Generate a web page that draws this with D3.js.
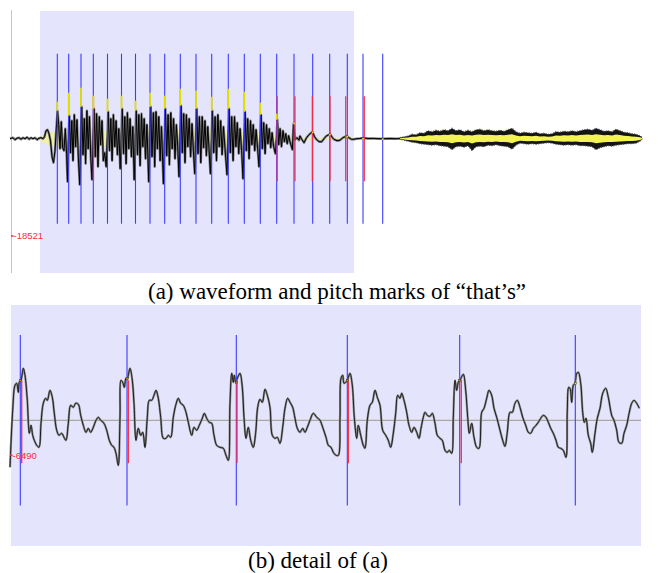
<!DOCTYPE html>
<html>
<head>
<meta charset="utf-8">
<script src="https://cdn.jsdelivr.net/npm/d3@7"></script>
<style>
  body { margin: 0; background: #fff; }
  svg { display: block; }
</style>
</head>
<body>
<script>
var WIDTH = 658, HEIGHT = 573;

// ---------- panel (a): whole word ----------
// t: time in trace steps from the start of the recording, amp: amplitude in units of topUnit raw values
var topUnit = 190.4;
var topMin = -18521;
var topWave = [
  [0,0],[3,1],[5,-1],[7,0.5],[9,1],[11,-0.5],[13,1],[15,0],[17,1.5],[19,-0.5],[21,1],[23,0],[25,1],[27,-1],[29,0.5],[31,1],[33,0],[34.5,2],[36,8],[37.5,9],[39,5],[40.5,-2],
  [42,-18],[43.5,-24],[45,-12],[46.3,10],[47.5,28],[48.7,14],[50,-10],[51.3,17],[52.6,-9],[54,-12],[55.3,10],[56.6,-16],
  [57.5,-43],[58.7,8],[59.4,23],[60.5,-14],[61.8,18],[63,-22],[64.3,24],[65.6,-8],[67,19],[68.3,-18],
  [69.7,-46],[71,10],[71.7,32],[73,-16],[74.3,20],[75.6,-25],[76.9,28],[78.2,-10],[79.5,22],[80.8,-20],
  [82,-41],[83.3,6],[84,30],[85.3,-18],[86.6,25],[88,-28],[89.3,22],[90.6,-6],[92,18],[93.3,-22],[94.7,-14],
  [96.2,-28],[97.5,5],[98.2,27],[99.5,-12],[100.8,20],[102.1,-22],[103.4,24],[104.8,-8],[106.1,18],[107.4,-16],[108.8,10],
  [110.2,-30],[111.5,8],[112.2,30],[113.5,-15],[114.8,22],[116.1,-25],[117.4,26],[118.8,-10],[120.1,20],[121.4,-18],[122.8,12],
  [124.2,-41],[125.5,6],[126.2,28],[127.5,-16],[128.8,24],[130.1,-27],[131.5,25],[132.8,-8],[134.2,20],[135.5,-20],[136.9,14],
  [138.7,-43],[140,8],[140.7,32],[142,-18],[143.4,26],[144.7,-28],[146,27],[147.4,-10],[148.8,22],[150.1,-22],[151.5,12],
  [153.4,-45],[154.7,6],[155.4,30],[156.7,-17],[158.1,24],[159.4,-26],[160.8,26],[162.2,-10],[163.6,20],[165,-20],[166.4,14],[167.7,-8],
  [169,-38],[170.3,10],[171,33],[172.3,-14],[173.7,25],[175,-24],[176.4,24],[177.8,-8],[179.2,20],[180.6,-18],[182,15],[183.4,-12],
  [184.7,-35],[186,8],[186.7,30],[188,-15],[189.4,22],[190.8,-24],[192.2,22],[193.6,-9],[195,18],[196.4,-17],[197.8,12],[199,-10],
  [200.4,-35],[201.7,6],[202.4,28],[203.7,-14],[205.1,22],[206.5,-22],[207.9,24],[209.3,-8],[210.7,18],[212.1,-16],[213.5,12],[215,-10],
  [217,-36],[218.3,8],[219,30],[220.3,-14],[221.7,22],[223.1,-22],[224.5,22],[225.9,-8],[227.3,16],[228.7,-15],[230.1,10],[231.6,-12],
  [233,-40],[234.3,6],[235,27],[236.3,-12],[237.7,20],[239.1,-20],[240.5,18],[241.9,-6],[243.3,14],[244.7,-12],[246.1,9],[247.6,-10],
  [249,-28],[250.3,5],[251,24],[252.3,-10],[253.7,16],[255.1,-15],[256.5,14],[257.9,-5],[259.3,10],[260.7,-9],[262.1,6],[263.6,-8],
  [265.4,-15],[266.7,4],[267.4,19],[268.7,-6],[270.1,10],[271.5,-8],[273,8],[274.4,-3],[275.8,5],[277.2,-5],[278.7,3],[280.2,-4],
  [282.4,-11],[283.5,15],[285,-1],[287,1],[289,-1.5],[290,2.7],[292,-1],[294,-4],[296.5,1],[299,4],[302.5,7],[304.5,2],[306.7,-1],
  [309,-3],[311.7,-3],[314,0],[316,2.5],[320,4.7],[322.5,1],[324,-0.7],[327,-2],[330,-1.5],[333,1],[336.7,2.7],[339,1],[341.7,-0.7],
  [344,-0.5],[346.7,0],[350,0.3],[353.3,0.7],[358,0.2],[363.3,0.3],[368,0],[373.3,0],[380,0.2],[386.7,0],[390,0.3]
];
// pale yellow trace under the voiced part: [t, half width]
var voicedYellow = [
  [26,0],[30,2],[36,5],[40,7],[46,6],[50,9],[56,5],[60,9],[66,5],[72,10],[78,6],[84,10],[90,6],[98,9],[104,5],[112,9],
  [118,6],[126,10],[132,6],[140,10],[146,6],[155,9],[162,6],[170,10],[177,6],[186,9],[193,5],[202,9],[209,5],[218,8],
  [225,5],[234,7],[241,4],[250,6],[258,3],[267,4],[275,2],[284,2],[300,1],[340,0.6],[390,0.5]
];
// the "s" fricative: envelopes of the black trace and of the yellow trace
var fricT   = [390,394,398,402,406,410,414,418,422,426,430,434,438,442,446,450,454,458,462,466,470,474,478,482,486,490,494,498,502,506,510,514,518,522,526,530,534,538,542,546,550,554,558,562,566,570,574,578,582,586,590,594,598,602,606,610,614,618,622,626,630,632];
var fricHi  = [1.2,2,2.8,4.5,4,6,5.5,8,7,8.5,7.5,9,8,10.5,8,9,7,8.5,7,9,9.5,8,9,8,7.5,8.5,7.5,9,10.5,7,5.5,6.5,6,5.5,6.5,5,5.5,4.5,5,7,6.5,7.5,7,8,7,8,9,9.5,8.5,10.5,9,7.5,8,7,9.5,8,6.5,6,5,4.5,3,1.5];
var fricLo  = [-0.8,-1.5,-2.5,-3.5,-4,-5,-5.5,-6,-6.5,-6,-7,-7.5,-8,-11,-8,-7.5,-8.5,-7,-12,-8,-7.5,-8,-6.5,-7,-6,-7,-7.5,-8,-10.5,-6.5,-4.5,-5,-5.5,-5,-5.5,-5,-4.5,-4,-4.5,-5.5,-6,-6.5,-6,-6.5,-6,-7,-7,-7.5,-8,-11,-9,-8,-7,-7.5,-6.5,-6,-5.5,-5,-5,-4.5,-2.5,-1];
var fricYHi = [0.5,1,1.3,2,2,2.8,2.5,3.5,3.2,3.8,3.4,4,3.6,4.5,3.6,4,3.2,3.8,3.2,4,4.2,3.6,4,3.6,3.4,3.8,3.4,4,4.5,3.2,2.5,3,2.7,2.5,3,2.3,2.5,2,2.3,3.2,3,3.4,3.2,3.6,3.2,3.6,4,4.2,3.8,4.5,4,3.4,3.6,3.2,4.2,3.6,3,2.7,2.3,2,1.4,0.7];
var fricYLo = [-0.4,-0.7,-1.2,-1.6,-1.8,-2.3,-2.5,-2.7,-3,-2.7,-3.2,-3.4,-3.6,-4.5,-3.6,-3.4,-3.8,-3.2,-4.8,-3.6,-3.4,-3.6,-3,-3.2,-2.7,-3.2,-3.4,-3.6,-4.5,-3,-2,-2.3,-2.5,-2.3,-2.5,-2.3,-2,-1.8,-2,-2.5,-2.7,-3,-2.7,-3,-2.7,-3.2,-3.2,-3.4,-3.6,-4.5,-4,-3.6,-3.2,-3.4,-3,-2.7,-2.5,-2.3,-2.3,-2,-1.2,-0.5];
// pitch marks
var topMarks  = [47.3,58.7,71,83.3,97.5,111.5,125.5,140,154.7,170.3,186,201.7,218.3,234.3,250.3,266.7,284,302.7,319.7,337.3,353,372.7];
var spikeTop  = [37,46,51,43,40,43,38,46,43,50,48,42,50,47,36,25,16,7,4.7,2.7,0.7,0.3];
var spikeBase = [28,23,32,30,27,30,28,32,30,33,30,28,30,27,24,19,14.5,5.5,3.2,1.2,-0.8,-1.2];
var topRed    = [83.5,267.2,285,302.3,320,335.7,354.3];
var topSelection = [30, 344];
var topMarkHalf = 85, topRedHalf = 42.5;

// ---------- panel (b): detail ----------
var detailUnit = 185.4;
var detailMin = -6490;
var detailWave = [
  [0,-47],[2.7,10],[5,35],[6.7,37],[8.3,28],[9.3,38],[11,40],[13.3,52],[15,45],[17.3,20],[19.3,-13],[21,-5],[22.7,-15],[24.3,-20],[26.7,-25],[29,-27],
  [31,-3],[33.3,17],[35.7,22],[37.3,20],[40,30],[42.3,23],[44.3,7],[46.7,-10],[49,-15],[51.7,-13],[54,-17],[56,-20],[58.3,-3],[60.7,15],[63.3,13],
  [65.7,17],[68.3,16],[70.7,5],[73.3,-5],[76,-12],[78.3,-8],[80.7,-12],[83.3,-7],[86,0],[88.3,3],[90.7,0],[94,-3],[96.7,-10],[99.3,-20],[101.7,-25],
  [104,-27],[106,-33],[108.3,-45],[110,3],[111,40],[112.7,38],[114.3,33],[116,42],[117.3,42],[120,52],[122.3,40],[124,17],[126,-20],[128.3,-8],
  [130.7,-15],[132.7,-12],[135,-27],[137.3,3],[139.3,20],[141.7,20],[144,25],[146,30],[148.3,22],[150.7,3],[153.3,-18],[156,-18],[158.3,-15],
  [160.7,-17],[163.3,3],[165.7,15],[168.3,22],[170.7,17],[173.3,15],[176,8],[178.3,-2],[181.7,-15],[184,-7],[186.7,-10],[189.3,-5],[192.3,2],
  [194.3,7],[196.7,2],[199.3,-2],[201.7,-3],[204,-15],[206.7,-25],[210,-27],[213.3,-28],[216,-35],[218.3,-40],[220,17],[221.7,47],[223.3,38],
  [224.3,45],[225.7,38],[227.3,42],[230,47],[232.3,33],[234,3],[236,-18],[238.3,-7],[240.7,-20],[243.3,-27],[245.7,-12],[247.7,13],[250,21],
  [252.3,18],[255,31],[257.3,25],[260,13],[262.3,-15],[265,-18],[267.3,-17],[270,-23],[272.7,-7],[275,12],[277.7,22],[280,18],[282.7,13],[285,2],
  [287.3,-8],[290,-12],[292.7,-8],[295,-12],[297.3,-7],[300,0],[303.3,7],[306.7,3],[310,0],[312.7,-7],[316,-17],[318.3,-25],[321,-27],[323.3,-32],
  [326,-35],[328.3,-35],[330,3],[331,42],[332.7,45],[334,37],[335.7,38],[337.3,40],[340,47],[342.3,35],[344.3,3],[346.7,-18],[348.3,-5],[350.7,-15],
  [353.3,-25],[355,-28],[357.3,0],[360,15],[362.3,18],[365,30],[367.3,23],[370,15],[372.7,-10],[375.7,-15],[378.3,-20],[380.7,-27],[383.3,-13],
  [385.7,7],[387.7,25],[390,22],[391.7,27],[394,20],[396.7,8],[399,-5],[401.7,-12],[404,-7],[406.7,-12],[409,-18],[411,-8],[413.3,3],[415,8],
  [417.3,5],[420,4],[422.3,7],[425,-3],[427.3,-15],[430,-18],[432.3,-20],[435,-30],[437.3,-32],[439.3,-30],[441.7,-33],[443.3,3],[445,40],
  [446.7,30],[448.3,38],[450,40],[453.3,46],[455.7,30],[457.7,3],[459.3,-13],[461.7,-3],[464,-17],[466.7,-27],[469,-28],[471.7,8],[474,12],
  [476.7,22],[479,30],[481.7,25],[484,12],[486.7,3],[490,-10],[492.7,-20],[495,-26],[497.3,-12],[500,8],[502.3,8],[505,17],[507.3,20],[510,13],
  [512.7,3],[515.7,-5],[518.3,-12],[520.7,-13],[523.3,-8],[526,-5],[528.3,-2],[530.7,2],[533.3,5],[536,3],[538.3,-2],[540.7,-8],[543.3,-13],
  [546,-20],[548.3,-27],[550.7,-28],[553.3,-30],[556,-37],[557.3,10],[558.7,33],[560,32],[561.7,18],[563.3,35],[565,37],[566.7,47],[568.3,48],
  [570.7,37],[572.7,8],[574.3,-2],[576,2],[578.3,-15],[580.7,-23],[582.3,-32],[585,-13],[587.3,2],[590,12],[592.7,27],[595.7,32],[598.3,23],
  [601.7,5],[604,0],[606.7,-10],[609,-22],[611.7,-23],[614,-13],[616.7,-5],[619.3,8],[621.7,17],[624,20],[626.7,17],[629.3,12]
];
var detailMarks = [10.3,117,226.3,337.3,449.7,565.3];
var detailSamples = [40,42,38,40,40,37];
var detailRed = [11.7,118.3,227,338.3,451.3];
var detailRedTop = 40, detailRedBottom = -43;
var detailMarkHalf = 85.3;

var captions = ["(a) waveform and pitch marks of \u201cthat\u2019s\u201d", "(b) detail of (a)"];

// ---------- drawing ----------
var svg = d3.select("body").append("svg")
    .attr("width", WIDTH)
    .attr("height", HEIGHT);

var xTop = d3.scaleLinear().domain([0, 632]).range([10, 642]);
var yTop = d3.scaleLinear().domain([-100, 100]).range([238.7, 38.7]);
var xDet = d3.scaleLinear().domain([0, 630]).range([10, 640]);
var yDet = d3.scaleLinear().domain([-100, 100]).range([520.3, 320.3]);

var LAV = "#e4e4fc", BLUE = "#3c3cff", RED = "#ff2a3a";
var LABEL_FONT = "'Liberation Sans', Arial, sans-serif";

// panel (a)
var gTop = svg.append("g");

gTop.append("rect")
    .attr("x", xTop(topSelection[0]))
    .attr("y", 11)
    .attr("width", xTop(topSelection[1]) - xTop(topSelection[0]))
    .attr("height", 262)
    .style("fill", LAV);

gTop.append("line")
    .attr("x1", 11.5).attr("x2", 11.5).attr("y1", 10).attr("y2", 273)
    .style("stroke", "#c4c4c4").style("stroke-width", 1);

gTop.append("line")
    .attr("x1", xTop(2)).attr("x2", xTop(632))
    .attr("y1", yTop(0)).attr("y2", yTop(0))
    .style("stroke", "#b8b8aa").style("stroke-width", 1);

gTop.append("path")
    .datum(voicedYellow)
    .attr("d", d3.area()
      .x(function(d){ return xTop(d[0]); })
      .y0(function(d){ return yTop(-d[1]); })
      .y1(function(d){ return yTop(d[1]); })
      .curve(d3.curveMonotoneX))
    .style("fill", "#efefa6");

var topLine = d3.line()
    .x(function(d){ return xTop(d[0]); })
    .y(function(d){ return yTop(d[1]); });

gTop.append("path").datum(topWave).attr("d", topLine)
    .style("fill", "none").style("stroke", "#7a7a7a").style("stroke-width", 2.4).style("stroke-linejoin", "round");
gTop.append("path").datum(topWave).attr("d", topLine)
    .style("fill", "none").style("stroke", "#000").style("stroke-width", 1).style("stroke-linejoin", "round");

var fric = fricT.map(function(t, i){ return {t: t, hi: fricHi[i], lo: fricLo[i], yhi: fricYHi[i], ylo: fricYLo[i]}; });

// fuzzy edged black band, then the yellow trace inside it
gTop.append("path").datum(fric)
    .attr("d", d3.area()
      .x(function(d){ return xTop(d.t); })
      .y0(function(d){ return yTop(d.lo); })
      .y1(function(d){ return yTop(d.hi); }))
    .style("fill", "#141414")
    .style("stroke", "#555").style("stroke-width", 1.2).style("stroke-dasharray", "1,1.5");

gTop.append("path").datum(fric)
    .attr("d", d3.area()
      .x(function(d){ return xTop(d.t); })
      .y0(function(d){ return yTop(d.ylo); })
      .y1(function(d){ return yTop(d.yhi); }))
    .style("fill", "#f3f355");

gTop.selectAll(".pm").data(topMarks).enter().append("line")
    .attr("class", "pm")
    .attr("x1", function(d){ return xTop(d); }).attr("x2", function(d){ return xTop(d); })
    .attr("y1", yTop(topMarkHalf)).attr("y2", yTop(-topMarkHalf))
    .style("stroke", BLUE).style("stroke-width", 1.1);

gTop.selectAll(".rm").data(topRed).enter().append("line")
    .attr("class", "rm")
    .attr("x1", function(d){ return xTop(d); }).attr("x2", function(d){ return xTop(d); })
    .attr("y1", yTop(topRedHalf)).attr("y2", yTop(-topRedHalf))
    .style("stroke", RED).style("stroke-width", 1.2);

gTop.selectAll(".sp").data(topMarks).enter().append("line")
    .attr("class", "sp")
    .attr("x1", function(d){ return xTop(d); }).attr("x2", function(d){ return xTop(d); })
    .attr("y1", function(d, i){ return yTop(spikeTop[i]); })
    .attr("y2", function(d, i){ return yTop(spikeBase[i]); })
    .style("stroke", "#e2e000").style("stroke-width", 1.8);

gTop.append("line")
    .attr("x1", 11).attr("x2", 13.5)
    .attr("y1", yTop(topMin / topUnit)).attr("y2", yTop(topMin / topUnit))
    .style("stroke", RED).style("stroke-width", 1.5);
gTop.append("text")
    .attr("x", 13.5).attr("y", yTop(topMin / topUnit) + 3.5)
    .style("font-family", LABEL_FONT)
    .style("font-size", "9.5px")
    .style("fill", RED)
    .text(topMin);

// panel (b)
var gDet = svg.append("g");

gDet.append("rect")
    .attr("x", 11).attr("y", 305)
    .attr("width", 630).attr("height", 241)
    .style("fill", LAV);

gDet.append("line")
    .attr("x1", 11).attr("x2", 641)
    .attr("y1", yDet(0)).attr("y2", yDet(0))
    .style("stroke", "#9a9a88").style("stroke-width", 1);

var detLine = d3.line()
    .x(function(d){ return xDet(d[0]); })
    .y(function(d){ return yDet(d[1]); })
    .curve(d3.curveCatmullRom.alpha(0.5));

gDet.append("path").datum(detailWave).attr("d", detLine)
    .style("fill", "none").style("stroke", "#8c8c8c").style("stroke-width", 2.2).style("stroke-linejoin", "round");
gDet.append("path").datum(detailWave).attr("d", detLine)
    .style("fill", "none").style("stroke", "#111").style("stroke-width", 0.9).style("stroke-linejoin", "round");

gDet.selectAll(".pm").data(detailMarks).enter().append("line")
    .attr("class", "pm")
    .attr("x1", function(d){ return xDet(d); }).attr("x2", function(d){ return xDet(d); })
    .attr("y1", yDet(detailMarkHalf)).attr("y2", yDet(-detailMarkHalf))
    .style("stroke", BLUE).style("stroke-width", 1.1);

gDet.selectAll(".rm").data(detailRed).enter().append("line")
    .attr("class", "rm")
    .attr("x1", function(d){ return xDet(d); }).attr("x2", function(d){ return xDet(d); })
    .attr("y1", yDet(detailRedTop)).attr("y2", yDet(detailRedBottom))
    .style("stroke", RED).style("stroke-width", 1.3);

gDet.selectAll(".dot").data(detailMarks).enter().append("rect")
    .attr("class", "dot")
    .attr("x", function(d){ return xDet(d) - 1; })
    .attr("y", function(d, i){ return yDet(detailSamples[i]) - 1; })
    .attr("width", 2.2).attr("height", 2.2)
    .style("fill", function(d, i){ return i === detailMarks.length - 1 ? "#e8e800" : "#d08a00"; })
    .style("stroke", "#222").style("stroke-width", 0.4);

gDet.append("line")
    .attr("x1", 10).attr("x2", 12.5)
    .attr("y1", yDet(detailMin / detailUnit)).attr("y2", yDet(detailMin / detailUnit))
    .style("stroke", RED).style("stroke-width", 1.5);
gDet.append("text")
    .attr("x", 12.5).attr("y", yDet(detailMin / detailUnit) + 3.5)
    .style("font-family", LABEL_FONT)
    .style("font-size", "9.5px")
    .style("fill", RED)
    .text(detailMin);

// captions
svg.selectAll(".cap").data(captions).enter().append("text")
    .attr("class", "cap")
    .attr("x", function(d, i){ return i === 0 ? 148 : 248; })
    .attr("y", function(d, i){ return i === 0 ? 298.5 : 567.5; })
    .style("font-family", "'Liberation Serif', 'Times New Roman', serif")
    .style("font-size", "23px")
    .style("fill", "#000")
    .text(function(d){ return d; });
</script>
</body>
</html>
